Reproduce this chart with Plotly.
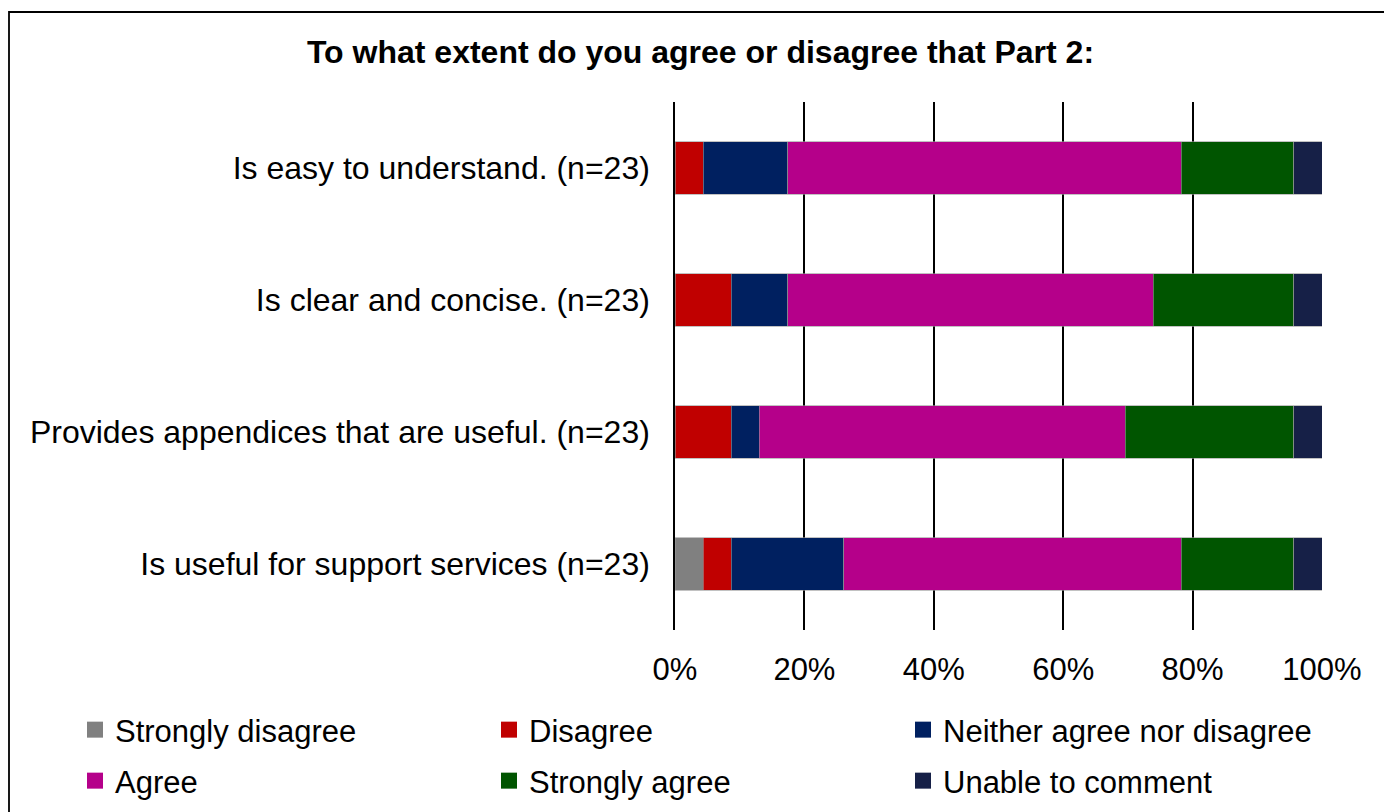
import plotly.graph_objects as go

# Survey responses (counts out of n=23) per statement
statements = [
    "Is easy to understand. (n=23)",
    "Is clear and concise. (n=23)",
    "Provides appendices that are useful. (n=23)",
    "Is useful for support services (n=23)",
]
strongly_disagree = [0, 0, 0, 1]
disagree = [1, 2, 2, 1]
neither = [3, 2, 1, 4]
agree = [14, 13, 13, 12]
strongly_agree = [4, 5, 6, 4]
unable = [1, 1, 1, 1]

series_names = [
    "Strongly disagree", "Disagree", "Neither agree nor disagree",
    "Agree", "Strongly agree", "Unable to comment",
]
series_values = [strongly_disagree, disagree, neither, agree, strongly_agree, unable]
series_colors = ["#808080", "#C00000", "#002060", "#B5008A", "#005500", "#162047"]

x_tick_values = [0, 20, 40, 60, 80, 100]
x_tick_labels = ["0%", "20%", "40%", "60%", "80%", "100%"]

W, H = 1384, 812
ML, MR, MT, MB = 675, 62, 102, 182
FONT = "Liberation Sans, Arial, sans-serif"
pw = W - ML - MR
ph = H - MT - MB


def px_to_paper_x(px):
    return (px - ML) / pw


def px_to_paper_y(py):
    return (H - MB - py) / ph


fig = go.Figure()
for i, (name, vals, col) in enumerate(zip(series_names, series_values, series_colors)):
    fig.add_trace(go.Bar(
        y=statements, x=vals, name=name, orientation="h",
        marker=dict(color=col, line=dict(color="#9a9a9a", width=0.6)),
        showlegend=False,
    ))
    # legend entry with a larger square swatch; three entries per legend row
    fig.add_trace(go.Scatter(
        x=[None], y=[None], mode="markers", name=name,
        marker=dict(symbol="square", size=16, color=col),
        showlegend=True, legend="legend" if i < 3 else "legend2",
    ))

# outer frame around the chart
fig.add_shape(
    type="rect", xref="paper", yref="paper",
    x0=px_to_paper_x(9), x1=px_to_paper_x(W + 20),
    y0=px_to_paper_y(H + 20), y1=px_to_paper_y(12),
    line=dict(color="black", width=1.8), fillcolor="rgba(0,0,0,0)", layer="below",
)

legend_style = dict(
    orientation="h", traceorder="normal",
    xref="paper", yref="paper",
    x=px_to_paper_x(75), xanchor="left", yanchor="middle",
    entrywidth=369, entrywidthmode="pixels",
    font=dict(size=31), itemsizing="trace",
    bgcolor="rgba(0,0,0,0)",
)

fig.update_layout(
    width=W, height=H,
    margin=dict(l=ML, r=MR, t=MT, b=MB, autoexpand=False),
    paper_bgcolor="white", plot_bgcolor="white",
    barmode="stack", barnorm="percent", bargap=0.6,
    font=dict(family=FONT, size=32, color="black"),
    title=dict(
        text="<b>To what extent do you agree or disagree that Part 2:</b>",
        x=700.5 / W, xanchor="center", xref="container",
        y=1 - 52 / H, yanchor="middle", yref="container",
        font=dict(family=FONT, size=32, color="black"),
    ),
    xaxis=dict(
        range=[0, 100], tickmode="array",
        tickvals=x_tick_values, ticktext=x_tick_labels,
        showgrid=True, gridcolor="black", gridwidth=1.5,
        zeroline=False, showline=False, ticks="",
        ticklabelstandoff=18, tickfont=dict(size=31),
        fixedrange=True,
    ),
    yaxis=dict(
        autorange="reversed", showgrid=False, ticks="",
        showline=True, linecolor="black", linewidth=1.5,
        ticklabelstandoff=17, tickfont=dict(size=32),
    ),
    legend=dict(legend_style, y=px_to_paper_y(730)),
    legend2=dict(legend_style, y=px_to_paper_y(781)),
    showlegend=True,
)

fig.write_html("out.html")
